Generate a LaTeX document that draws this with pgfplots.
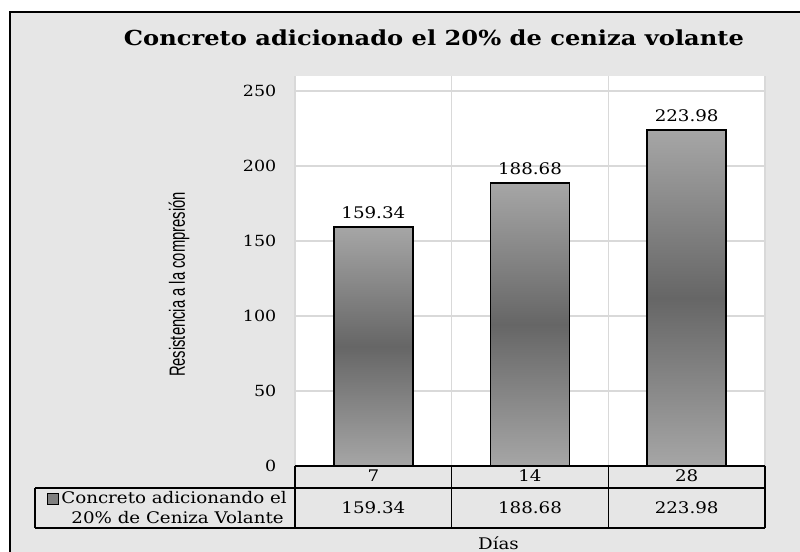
\documentclass[border=0pt]{standalone}
\usepackage{fontspec}
\usepackage{graphicx}
\usepackage{pgfplots}
\pgfplotsset{compat=1.18}
\setmainfont{DejaVu Serif}
\newfontfamily\chartfont[FakeStretch=1.14]{DejaVu Serif}
\newfontfamily\labelfont{Liberation Sans}
\definecolor{bg}{RGB}{230,230,230}
\definecolor{gridc}{RGB}{217,217,217}
\definecolor{barlight}{RGB}{166,166,166}
\definecolor{bardark}{RGB}{102,102,102}
\definecolor{keygray}{RGB}{128,128,128}
\newcommand\tabfont{\chartfont\fontsize{12}{14}\selectfont}
\pgfkeys{/pgf/number format/assume math mode=true}

\pgfplotsset{
  concrete bar/.style={
    ybar, bar width=59.25pt, bar shift=0pt,
    draw=black, line width=1.1pt,
    top color=barlight, bottom color=barlight, middle color=bardark,
    nodes near coords,
    every node near coord/.append style={font=\tabfont, yshift=2pt, text=black},
    nodes near coords style={/pgf/number format/.cd, fixed, fixed zerofill, precision=2},
  },
}

\begin{document}
\begin{tikzpicture}
\useasboundingbox (0,0) rectangle (600pt,414pt);
% chart area background and frame (pixel units, y downwards)
\begin{scope}[x=0.75pt,y=-0.75pt,shift={(0pt,414pt)}]
  \fill[bg] (10,12) rectangle (800,552);
  \draw[line width=1.5pt] (10,552) -- (10,12) -- (800,12);
\end{scope}

\begin{axis}[
  at={(221.25pt,64.5pt)}, anchor=south west,
  scale only axis, width=352.5pt, height=292.5pt,
  xmin=-0.5, xmax=2.5, ymin=0, ymax=260,
  axis background/.style={fill=white},
  axis line style={draw=none},
  tick style={draw=none},
  ytick={0,50,...,250},
  xtick={0,1,2}, xticklabels={7,14,28},
  minor xtick={-0.5,0.5,1.5,2.5},
  ymajorgrids, xminorgrids,
  major grid style={gridc, line width=0.9pt},
  minor grid style={gridc, line width=0.9pt},
  ticklabel style={font=\chartfont\fontsize{11.5}{13}\selectfont},
  xticklabel style={font=\tabfont, yshift=1pt},
  yticklabel style={xshift=-10.5pt},
  clip=false,
]
\addplot[concrete bar] coordinates {(0,159.34)};
\addplot[concrete bar] coordinates {(1,188.68)};
\addplot[concrete bar] coordinates {(2,223.98)};

% data table values
\node[font=\tabfont] at (axis cs:0,-28) {159.34};
\node[font=\tabfont] at (axis cs:1,-28) {188.68};
\node[font=\tabfont] at (axis cs:2,-28) {223.98};
\end{axis}

\begin{scope}[x=0.75pt,y=-0.75pt,shift={(0pt,414pt)}]
  % data table grid
  \begin{scope}[line width=1.1pt]
    \draw (295,466) -- (765,466);
    \draw (35,488) -- (765,488);
    \draw (35,528) -- (765,528);
    \draw (35,488) -- (35,528);
    \draw (295,466) -- (295,528);
    \draw (451.7,466) -- (451.7,528);
    \draw (608.3,466) -- (608.3,528);
    \draw (765,466) -- (765,528);
  \end{scope}
  % legend cell
  \node[anchor=base east, inner sep=0pt, font=\tabfont] at (287,504)
    {\setlength\fboxsep{0pt}\setlength\fboxrule{0.8pt}%
     \raisebox{0.3pt}{\fcolorbox{black}{keygray}{\rule{0pt}{7pt}\rule{7pt}{0pt}}}\hspace{2pt}Concreto adicionando el};
  \node[anchor=base east, inner sep=0pt, font=\tabfont] at (284,524) {20\% de Ceniza Volante};
  % titles
  \node[anchor=base, inner sep=0pt] at (434,46)
    {\resizebox{465pt}{\height}{\fontsize{15.5}{18}\selectfont\bfseries Concreto adicionado el 20\% de ceniza volante}};
  \node[rotate=90, inner sep=0pt] at (179,284.5)
    {\resizebox{138.75pt}{\height}{\labelfont\fontsize{16.5}{18}\selectfont Resistencia a la compresión}};
  \node[font=\tabfont] at (498.5,543) {Días};
\end{scope}
\end{tikzpicture}
\end{document}
